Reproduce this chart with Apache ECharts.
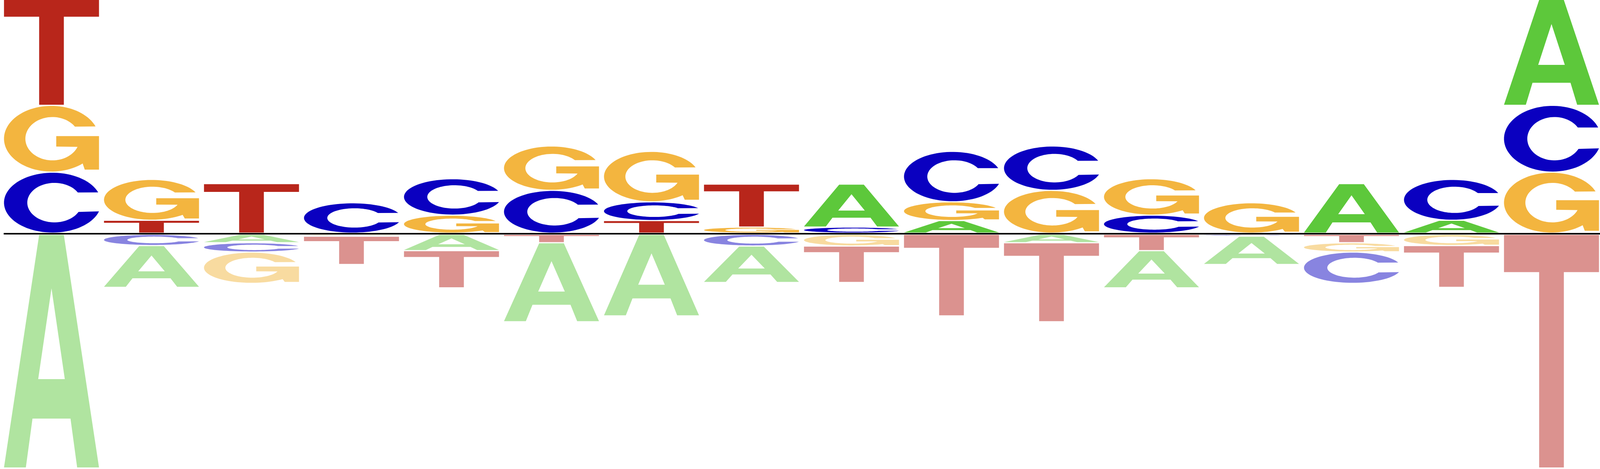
<!DOCTYPE html>
<html>
<head>
<meta charset="utf-8">
<title>Sequence logo</title>
<script src="https://cdn.jsdelivr.net/npm/echarts@6/dist/echarts.min.js"></script>
<style>
  html, body { margin: 0; padding: 0; background: #fff; overflow: hidden; }
  #logo { width: 100vw; height: 100vh; }
</style>
</head>
<body>
<div id="logo"></div>
<script>
// positions of the motif
const positions = [1, 2, 3, 4, 5, 6, 7, 8, 9, 10, 11, 12, 13, 14, 15, 16];
const letters = ['A', 'C', 'G', 'T'];

// letter heights above the baseline (fraction of half height)
const upA = [0, 0, 0, 0, 0, 0, 0, 0, 0.184, 0.054, 0, 0, 0, 0.212, 0.055, 0.453];
const upC = [0.261, 0, 0, 0.13, 0.156, 0.183, 0.08, 0, 0.026, 0.216, 0.19, 0.077, 0, 0, 0.175, 0.286];
const upG = [0.286, 0.175, 0, 0, 0.077, 0.19, 0.216, 0.026, 0, 0.08, 0.183, 0.156, 0.13, 0, 0, 0.261];
const upT = [0.453, 0.055, 0.212, 0, 0, 0, 0.054, 0.184, 0, 0, 0, 0, 0, 0, 0, 0];

// letter heights below the baseline
const dnA = [1.0, 0.179, 0.036, 0, 0.07, 0.338, 0.349, 0.156, 0, 0, 0.036, 0.159, 0.121, 0, 0, 0];
const dnC = [0, 0.048, 0.04, 0, 0, 0, 0, 0.05, 0, 0, 0, 0, 0.008, 0.134, 0, 0];
const dnG = [0, 0, 0.134, 0.008, 0, 0, 0, 0, 0.05, 0, 0, 0, 0, 0.04, 0.048, 0];
const dnT = [0, 0, 0, 0.121, 0.159, 0.036, 0, 0, 0.156, 0.349, 0.338, 0.07, 0, 0.036, 0.179, 1.0];

const upColors = ['#5dc83b', '#0a00c0', '#f3b53f', '#b8261b'];
const dnColors = ['#b0e4a0', '#8884e0', '#f8dba0', '#db928f'];

// glyph outlines in a 100x100 box
function arc(cx, cy, rx, ry, a0, a1, n) {
  let pts = [];
  for (let k = 0; k <= n; k++) {
    let a = (a0 + (a1 - a0) * k / n) * Math.PI / 180;
    pts.push((cx + rx * Math.cos(a)).toFixed(2) + ',' + (cy - ry * Math.sin(a)).toFixed(2));
  }
  return pts;
}
function poly(pts) {
  return 'M' + pts.join(' L') + ' Z';
}
const glyphA = 'M0,100 L37,0 L63,0 L100,100 L77,100 L70,79 L30,79 L23,100 Z M36,62 L64,62 L50,23 Z';
const glyphC = poly(arc(50, 50, 50, 50, 20, 343, 80).concat(arc(52, 50, 28, 33, 332, 31, 80)));
const glyphG = poly(arc(50, 50, 50, 50, 22, 311, 80)
  .concat(['85,97', '100,97', '100,46', '55,46', '55,62'])
  .concat(arc(51, 50, 28.5, 33, -22, -326, 80)));
const glyphT = 'M0,0 L100,0 L100,16 L63,16 L63,100 L37,100 L37,16 L0,16 Z';
const glyphs = [glyphA, glyphC, glyphG, glyphT];

// stack letters: smallest nearest the baseline
const upMap = [upA, upC, upG, upT];
const dnMap = [dnA, dnC, dnG, dnT];
let stackData = [];
positions.forEach(function (pos, i) {
  let ups = [0, 1, 2, 3].map(function (l) { return { l: l, h: upMap[l][i] }; })
    .filter(function (d) { return d.h > 0; })
    .sort(function (a, b) { return a.h - b.h; });
  let acc = 0;
  ups.forEach(function (d) {
    stackData.push([i, acc, acc + d.h, d.l, 1]);
    acc += d.h;
  });
  let dns = [0, 1, 2, 3].map(function (l) { return { l: l, h: dnMap[l][i] }; })
    .filter(function (d) { return d.h > 0; })
    .sort(function (a, b) { return a.h - b.h; });
  acc = 0;
  dns.forEach(function (d) {
    stackData.push([i, -acc - d.h, -acc, d.l, -1]);
    acc += d.h;
  });
});

let box = document.getElementById('logo');
let unit = box.clientHeight / 1200;   // sizes below are given for a 1200px tall picture

function renderLetter(params, api) {
  let i = api.value(0), lo = api.value(1), hi = api.value(2);
  let li = api.value(3), side = api.value(4);
  let tl = api.coord([i + 0.04, hi]);
  let br = api.coord([i + 0.99, lo]);
  let gap = 3 * unit;
  let y = tl[1], h = br[1] - tl[1];
  if (side > 0) {
    h -= gap;
  } else {
    y += gap;
    h -= gap;
  }
  if (h < 0.8 * unit) return;
  return {
    type: 'path',
    shape: { pathData: glyphs[li], x: tl[0], y: y, width: br[0] - tl[0], height: h, layout: 'cover' },
    style: { fill: side > 0 ? upColors[li] : dnColors[li] }
  };
}

let chart = echarts.init(box);
chart.setOption({
  backgroundColor: '#ffffff',
  animation: false,
  grid: { left: 0, right: 0, top: 0, bottom: 4 * unit },
  xAxis: { type: 'value', min: 0, max: positions.length, show: false },
  yAxis: { type: 'value', min: -1, max: 1, show: false },
  series: [
    {
      type: 'custom',
      renderItem: renderLetter,
      encode: { x: 0, y: [1, 2] },
      data: stackData
    },
    {
      type: 'line',
      symbol: 'none',
      silent: true,
      lineStyle: { color: '#000', width: 4 * unit },
      data: [[0.037, 0], [positions.length, 0]]
    }
  ]
});
window.onresize = function () {
  chart.resize();
};
</script>
</body>
</html>
